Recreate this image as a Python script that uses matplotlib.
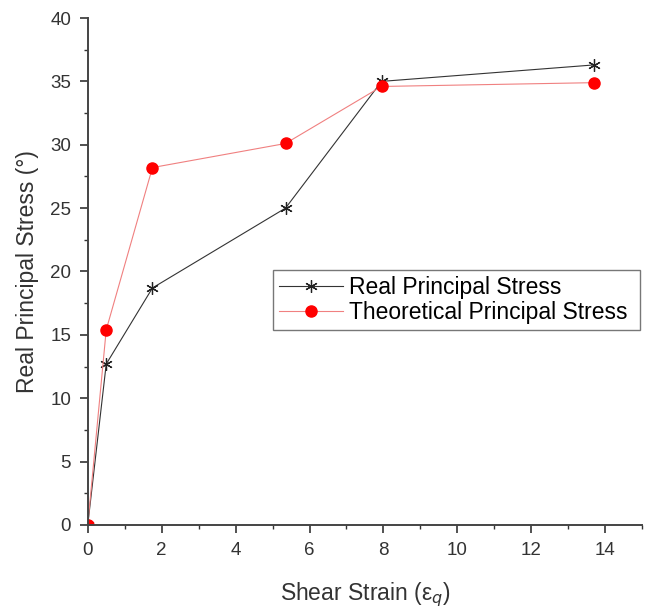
import matplotlib.pyplot as plt
from matplotlib.ticker import MultipleLocator

plt.rcParams['font.family'] = ['Liberation Sans', 'DejaVu Sans']

shear_strain = [0, 0.5, 1.75, 5.35, 7.95, 13.7]
real_stress = [0, 12.7, 18.7, 25.0, 35.0, 36.3]
theoretical_stress = [0, 15.4, 28.2, 30.1, 34.6, 34.9]

x_ticks = [0, 2, 4, 6, 8, 10, 12, 14]
y_ticks = [0, 5, 10, 15, 20, 25, 30, 35, 40]


def plot_stress(figsize=(6.5, 6.13)):
    fig = plt.figure(figsize=figsize, dpi=100)
    ax = fig.add_axes([0.135, 0.1436, 0.853, 0.827])

    ax.plot(shear_strain, real_stress, color='#333333', linewidth=0.8,
            marker=(6, 2, 0), markersize=9, markeredgewidth=0.9,
            markeredgecolor='#222222', label='Real Principal Stress')
    ax.plot(shear_strain, theoretical_stress, color='#f08080', linewidth=0.8,
            marker='o', markersize=8, markerfacecolor='red',
            markeredgecolor='red', label='Theoretical Principal Stress')

    ax.set_xlim(0, 15)
    ax.set_ylim(0, 40)
    ax.set_xticks(x_ticks)
    ax.set_yticks(y_ticks)
    ax.xaxis.set_minor_locator(MultipleLocator(1))
    ax.yaxis.set_minor_locator(MultipleLocator(2.5))
    ax.tick_params(which='major', direction='out', length=6, width=1.2,
                   labelsize=13.5, colors='#333333', pad=6)
    ax.tick_params(which='minor', direction='out', length=3, width=1.0,
                   colors='#333333')

    for side in ['top', 'right']:
        ax.spines[side].set_visible(False)
    for side in ['left', 'bottom']:
        ax.spines[side].set_linewidth(1.4)
        ax.spines[side].set_color('#444444')

    ax.set_xlabel('Shear Strain (ε$_q$)', fontsize=16.5, color='#333333', labelpad=16)
    ax.set_ylabel('Real Principal Stress (°)', fontsize=16.5, color='#333333', labelpad=8)

    leg = ax.legend(loc='lower left', bbox_to_anchor=(0.334, 0.385, 0.662, 0.132),
                    mode='expand', fontsize=16.5, frameon=True, fancybox=False,
                    borderaxespad=0, handlelength=2.8, handletextpad=0.25,
                    labelspacing=0.1, borderpad=0.25)
    leg.get_frame().set_edgecolor('#555555')
    leg.get_frame().set_linewidth(1.0)

    fig.savefig('out.png', dpi=100)


if __name__ == "__main__":
    plot_stress()
